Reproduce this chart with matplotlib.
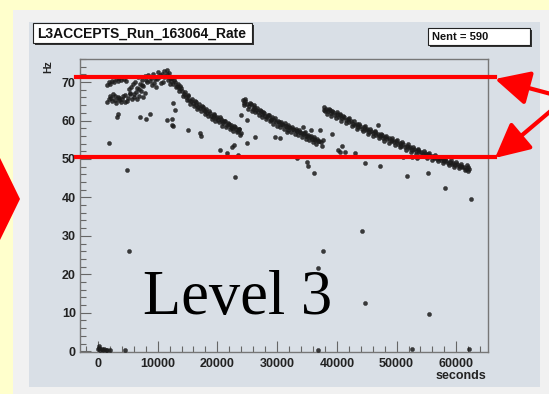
import matplotlib
matplotlib.use("Agg")
import matplotlib.pyplot as plt
from matplotlib.patches import Rectangle, Polygon, FancyArrowPatch, ArrowStyle
from matplotlib.ticker import MultipleLocator

# ---- data: L3 accept rate (Hz) versus time into the run (seconds) ----
# first store: two bands at the start, rising, then the decay
t_store1 = [1600, 1900, 2100, 2400, 2700, 3000, 3300, 3600, 3900, 4300, 4700,
            1500, 1800, 2000, 2300, 2500, 2800, 3100, 3300, 3600, 3900, 4200, 4500,
            4800, 5100, 5400, 5700, 6000, 6300, 6600, 6900, 7200, 7500, 7800,
            5200, 5600, 5900, 6200, 6500, 6700, 7000, 7300, 7600, 7900, 8200, 8400,
            8700, 9000, 9200, 9500, 9700, 10000, 10200, 10500, 10700, 10900, 11100,
            11300, 11500, 11700, 11900, 12100,
            2200, 2900, 3500, 4100, 4600, 5300, 6100, 6800, 7400, 8100, 8900, 9400,
            9900, 10400, 11000, 11600, 12000,
            12300, 12600, 12900, 13200, 13500, 13800, 14100, 14400, 14700, 15000,
            15300, 15600, 15900, 16200, 16500, 16800, 17100, 17400, 17700, 18000,
            18300, 18600, 18900, 19200, 19500, 19800, 20100, 20400, 20700, 21000,
            21300, 21600, 21900, 22200, 22500, 22800, 23100, 23400, 23700, 24000,
            12450, 13050, 13650, 14250, 14850, 15450, 16050, 16650, 17250, 17850,
            18450, 19050, 19650, 20250, 20850, 21450, 22050, 22650, 23250, 23850,
            12750, 13350, 13950, 14550, 15150, 15750, 16350, 16950, 17550, 18150,
            18750, 19350, 19950, 20550, 21150, 21750, 22350, 22950, 23550]
hz_store1 = [69.2, 70.1, 69.6, 70.4, 69.9, 70.8, 70.2, 71.0, 70.5, 70.9, 70.3,
             64.8, 65.6, 66.3, 65.1, 66.8, 65.4, 64.6, 66.1, 65.8, 64.9, 66.4, 66.7,
             65.2, 65.9, 66.9, 65.5, 66.2, 67.4, 65.7, 66.5, 67.8, 66.0, 67.1,
             68.3, 68.8, 69.6, 70.1, 68.5, 71.3, 69.4, 70.6, 68.9, 71.5, 69.9, 71.8,
             70.4, 69.2, 72.0, 70.8, 68.6, 72.6, 71.2, 69.7, 72.2, 70.0, 72.9,
             71.6, 73.1, 70.5, 72.4, 71.1,
             65.9, 66.4, 65.3, 65.6, 64.9, 67.2, 67.0, 68.2, 69.3, 70.5, 71.1, 69.8,
             70.9, 71.8, 71.4, 72.2, 69.6,
             70.2, 69.5, 70.0, 69.1, 68.4, 68.9, 67.6, 67.0, 66.2, 66.7,
             65.4, 65.0, 64.6, 65.1, 64.0, 63.6, 63.2, 63.9, 62.7, 62.4,
             61.9, 62.5, 61.3, 60.9, 61.4, 60.6, 60.2, 60.8, 59.9, 59.4,
             59.8, 58.9, 59.2, 58.4, 58.0, 58.6, 57.7, 57.3, 57.9, 56.8,
             71.0, 68.6, 67.8, 66.4, 65.3, 64.2, 63.8, 63.0, 62.6, 61.8,
             61.1, 60.4, 59.8, 59.5, 58.7, 58.3, 57.9, 57.4, 56.9, 56.3,
             70.6, 69.4, 68.5, 67.3, 66.5, 65.6, 64.9, 64.2, 63.4, 62.9,
             62.0, 61.7, 60.9, 60.3, 59.9, 59.4, 58.9, 58.2, 57.8]

# second store
t_store2 = [24300, 24500, 24700, 25000, 25300, 25600, 25900, 26200, 26500, 26800,
            27100, 27400, 27700, 28000, 28300, 28600, 28900, 29200, 29500, 29800,
            30100, 30400, 30700, 31000, 31300, 31600, 31900, 32200, 32500, 32800,
            33100, 33400, 33700, 34000, 34300, 34600, 34900, 35200, 35500, 35800,
            36100, 36400, 36700, 37000, 37300,
            24400, 25150, 25750, 26350, 26950, 27550, 28150, 28750, 29350, 29950,
            30550, 31150, 31750, 32350, 32950, 33550, 34150, 34750, 35350, 35950,
            36550,
            24600, 25450, 26050, 26650, 27250, 27850, 28450, 29050, 29650, 30250,
            30850, 31450, 32050, 32650, 33250, 33850, 34450, 35050, 35650, 36250,
            36850]
hz_store2 = [65.3, 64.6, 65.0, 64.2, 63.8, 64.3, 63.1, 63.6, 62.8, 62.2,
             62.7, 61.8, 62.1, 61.3, 60.9, 61.4, 60.5, 60.9, 60.1, 59.6,
             60.0, 59.2, 59.6, 58.8, 59.3, 58.4, 58.9, 58.0, 58.4, 57.6,
             57.9, 57.2, 57.6, 56.8, 56.4, 56.9, 56.0, 56.3, 55.7, 55.2,
             55.6, 54.9, 55.2, 54.6, 54.3,
             64.0, 63.0, 62.6, 62.1, 61.5, 60.9, 60.4, 59.8, 59.1, 58.7,
             58.3, 57.9, 57.5, 57.1, 56.6, 56.3, 55.7, 55.3, 54.9, 54.4,
             54.0,
             65.6, 64.6, 64.0, 63.3, 62.4, 62.0, 61.5, 60.2, 60.6, 59.6,
             59.1, 58.6, 58.4, 57.9, 57.4, 56.9, 56.7, 56.1, 55.9, 55.3,
             54.8]

# third store
t_store3 = [37800, 38000, 38200, 38500, 38800, 39100, 39400, 39700, 40000, 40300,
            40600, 40900, 41200, 41500, 41800, 42100, 42400, 42700, 43000, 43300,
            43600, 43900, 44200, 44500, 44800, 45100, 45400, 45700, 46000, 46300,
            46600, 46900, 47200, 47500, 47800, 48100, 48400, 48700, 49000, 49300,
            49600, 49900, 50200, 50500, 50800, 51100, 51400, 51700, 52000, 52300,
            52600, 52900, 53200, 53500, 53800, 54100, 54400, 54700, 55000, 55300,
            55600, 55900, 56200, 56500, 56800, 57100, 57400, 57700, 58000, 58300,
            58600, 58900, 59200, 59500, 59800, 60100, 60400, 60700, 61000, 61300,
            61600, 61900, 62200,
            38300, 39000, 39800, 40700, 41600, 42500, 43400, 44300, 45200, 46100,
            47000, 47900, 48800, 49700, 50600, 51500, 52400, 53300, 54200, 55100,
            56000, 56900, 57800, 58700, 59600, 60500, 61400,
            37900, 38650, 39250, 39950, 40450, 41050, 41950, 42850, 43750, 44650,
            45550, 46450, 47350, 48250, 49150, 50050, 50950, 51850, 52750, 53650,
            54550, 55450, 56350, 57250, 58150, 59050, 59950, 60850, 61750, 62000]
hz_store3 = [63.5, 62.6, 63.1, 62.4, 62.8, 61.9, 62.3, 61.5, 61.8, 61.0,
             61.4, 60.6, 60.9, 60.1, 60.4, 59.6, 59.9, 59.2, 58.8, 59.1,
             58.4, 58.7, 57.9, 58.2, 57.5, 57.8, 57.1, 57.4, 56.7, 57.0,
             56.3, 56.6, 55.9, 56.2, 55.5, 55.8, 55.1, 55.4, 54.7, 55.0,
             54.3, 54.6, 53.9, 54.2, 53.5, 53.8, 53.1, 53.4, 52.8, 53.0,
             52.4, 52.7, 52.0, 52.3, 51.7, 51.9, 51.3, 51.6, 51.0, 51.2,
             50.7, 50.9, 50.3, 50.6, 50.0, 50.2, 49.7, 49.9, 49.4, 49.6,
             49.0, 49.3, 48.7, 48.9, 48.4, 48.6, 48.1, 48.3, 47.8, 48.0,
             47.5, 47.8, 47.3,
             61.8, 61.2, 60.7, 60.0, 59.3, 58.6, 57.9, 57.2, 56.6, 56.0,
             55.4, 54.8, 54.1, 53.6, 53.0, 52.4, 51.8, 51.3, 50.8, 50.3,
             49.8, 49.4, 48.9, 48.5, 48.0, 47.6, 47.2,
             62.8, 63.0, 62.6, 62.1, 61.6, 61.3, 60.7, 59.9, 59.2, 58.5,
             57.9, 57.3, 56.6, 56.1, 55.5, 55.0, 54.4, 53.8, 53.2, 52.6,
             52.1, 51.6, 51.0, 50.6, 50.1, 49.7, 49.2, 48.8, 48.4, 46.9]

# isolated readings away from the main bands
t_outlier = [1900, 4900, 3200, 3400, 7000, 8000, 8700, 11500, 12400, 12500,
             12600, 12900, 12400, 15000, 17100, 17200, 5200,
             20400, 21600, 22400, 22900, 23500, 22800, 24000, 25000, 25000, 26300,
             29600, 30500, 31700, 33300, 35000, 35200, 36200, 34300, 35700, 37200,
             37500, 37600, 36900, 37700,
             39200, 40200, 40900, 41400, 40500, 43000, 44700, 47200, 46900, 51100,
             52500, 53400, 51800, 55300, 58100, 62500, 44200, 44700, 55400]
hz_outlier = [54.1, 47.1, 61.0, 61.6, 60.9, 60.3, 61.8, 60.1, 58.8, 58.5,
              64.6, 62.7, 60.5, 57.6, 56.7, 56.0, 26.0,
              52.3, 51.5, 53.1, 45.3, 51.1, 53.6, 61.4, 60.1, 54.1, 55.6,
              55.6, 55.5, 56.9, 50.2, 49.2, 48.3, 46.3, 58.3, 57.5, 57.5,
              53.3, 54.9, 21.6, 26.0,
              56.5, 52.3, 53.3, 51.7, 51.8, 51.5, 48.9, 48.2, 58.8, 50.5,
              50.6, 50.3, 45.7, 46.3, 42.4, 39.5, 31.2, 12.5, 9.7]

# readings where the rate dropped to zero
t_zero = [0, 100, 200, 400, 600, 800, 1000, 1300, 1600, 2000, 4500, 36900, 52600, 62100]
hz_zero = [0.5, 1.3, 0.8, 0.3, 0.6, 0.4, 0.5, 0.3, 0.4, 0.3, 0.3, 0.3, 0.5, 0.5]

# reference rate levels marked across the plot
rate_levels = [71.2, 50.4]

x_ticks = [0, 10000, 20000, 30000, 40000, 50000, 60000]
y_ticks = [0, 10, 20, 30, 40, 50, 60, 70]

# ---- figure ----
W, H = 549, 394
fig = plt.figure(figsize=(W / 100, H / 100), dpi=100)
fig.patch.set_facecolor("#ffffcc")

def px_rect(x0, y0, x1, y1, **kw):
    """Rectangle given in pixel coordinates measured from the top-left."""
    return Rectangle((x0 / W, 1 - y1 / H), (x1 - x0) / W, (y1 - y0) / H,
                     transform=fig.transFigure, **kw)

canvas_col = "#d9dfe6"
fig.patches.append(px_rect(13, 10, 560, 400, facecolor="#f1f1f1", edgecolor="none", zorder=-10))
fig.patches.append(px_rect(29, 22, 540, 387, facecolor=canvas_col, edgecolor="none", zorder=-9))

# red pointer on the left edge
fig.patches.append(Polygon([(-0.05, 1 - 150 / H), (0 / W, 1 - 158 / H), (20 / W, 1 - 199 / H),
                            (0 / W, 1 - 240 / H), (-0.05, 1 - 250 / H)],
                           closed=True, transform=fig.transFigure,
                           facecolor="#ff0000", edgecolor="none", zorder=-8))

ax = fig.add_axes([80 / W, 1 - 352 / H, 408 / W, 293 / H])
ax.set_facecolor(canvas_col)

bold = dict(family="Liberation Sans", weight="bold")

all_t = t_store1 + t_store2 + t_store3 + t_outlier + t_zero
all_hz = hz_store1 + hz_store2 + hz_store3 + hz_outlier + hz_zero
ax.plot(all_t, all_hz, linestyle="none", marker="o", markersize=3.0,
        markerfacecolor="#1c1c1c", markeredgecolor="#1c1c1c", markeredgewidth=0.3,
        alpha=0.85, clip_on=False, zorder=3)

ax.set_xlim(-3000, 65300)
ax.set_ylim(-0.2, 76)
ax.set_xticks(x_ticks)
ax.set_yticks(y_ticks)
ax.xaxis.set_minor_locator(MultipleLocator(2000))
ax.yaxis.set_minor_locator(MultipleLocator(2))
ax.tick_params(which="both", direction="in", color="#666666", width=0.8)
ax.tick_params(which="major", length=8, pad=4)
ax.tick_params(which="minor", length=4)
for lab in ax.get_xticklabels() + ax.get_yticklabels():
    lab.set_fontfamily("Liberation Sans")
    lab.set_fontweight("bold")
    lab.set_fontsize(9)
    lab.set_color("#222222")
ax.tick_params(axis="y", pad=3)
for sp in ax.spines.values():
    sp.set_color("#777777")
    sp.set_linewidth(1.0)

# horizontal rate markers
for lvl in rate_levels:
    ax.axhline(lvl, xmin=-0.01, xmax=(495 - 80) / 408, color="#ff0000",
               linewidth=3.0, clip_on=False, zorder=4)

ax.text(0.155, 0.13, "Level 3", transform=ax.transAxes, family="Liberation Serif",
        fontsize=45, color="black", ha="left", va="baseline", zorder=5)

fig.text(486 / W, 1 - 376 / H, "seconds", ha="right", va="center", fontsize=9,
         color="#222222", **bold)
fig.text(48 / W, 1 - 67 / H, "Hz", rotation=90, ha="center", va="center",
         fontsize=7.5, color="#222222", **bold)

# title pave
fig.patches.append(px_rect(35, 25, 254, 45, facecolor="#333333", edgecolor="none", zorder=6))
title_box = px_rect(33, 23, 252, 43, facecolor="white", edgecolor="#222222",
                    linewidth=0.8, zorder=7)
fig.patches.append(title_box)
t = fig.text(37 / W, 1 - 33.5 / H, "L3ACCEPTS_Run_163064_Rate", ha="left", va="center",
             fontsize=10, color="#111111", zorder=8, **bold)
t.set_clip_path(title_box)

# statistics pave
fig.patches.append(px_rect(430, 30, 532, 47, facecolor="#333333", edgecolor="none", zorder=6))
fig.patches.append(px_rect(428, 28, 530, 45, facecolor="white", edgecolor="#222222",
                           linewidth=0.8, zorder=7))
fig.text(432 / W, 1 - 36.5 / H, "Nent = 590", ha="left", va="center",
         fontsize=8, color="#111111", zorder=8, **bold)

# red arrows pointing at the two levels
style = ArrowStyle("-|>", head_length=21, head_width=10.5)
for tip in [(495, 79), (495, 158)]:
    arr = FancyArrowPatch((566 / W, 1 - 98 / H), (tip[0] / W, 1 - tip[1] / H),
                          transform=fig.transFigure, arrowstyle=style, mutation_scale=1,
                          shrinkA=0, shrinkB=0, color="#ff0000", linewidth=3, zorder=9)
    fig.patches.append(arr)

fig.savefig("out.png", dpi=100, facecolor=fig.get_facecolor())
